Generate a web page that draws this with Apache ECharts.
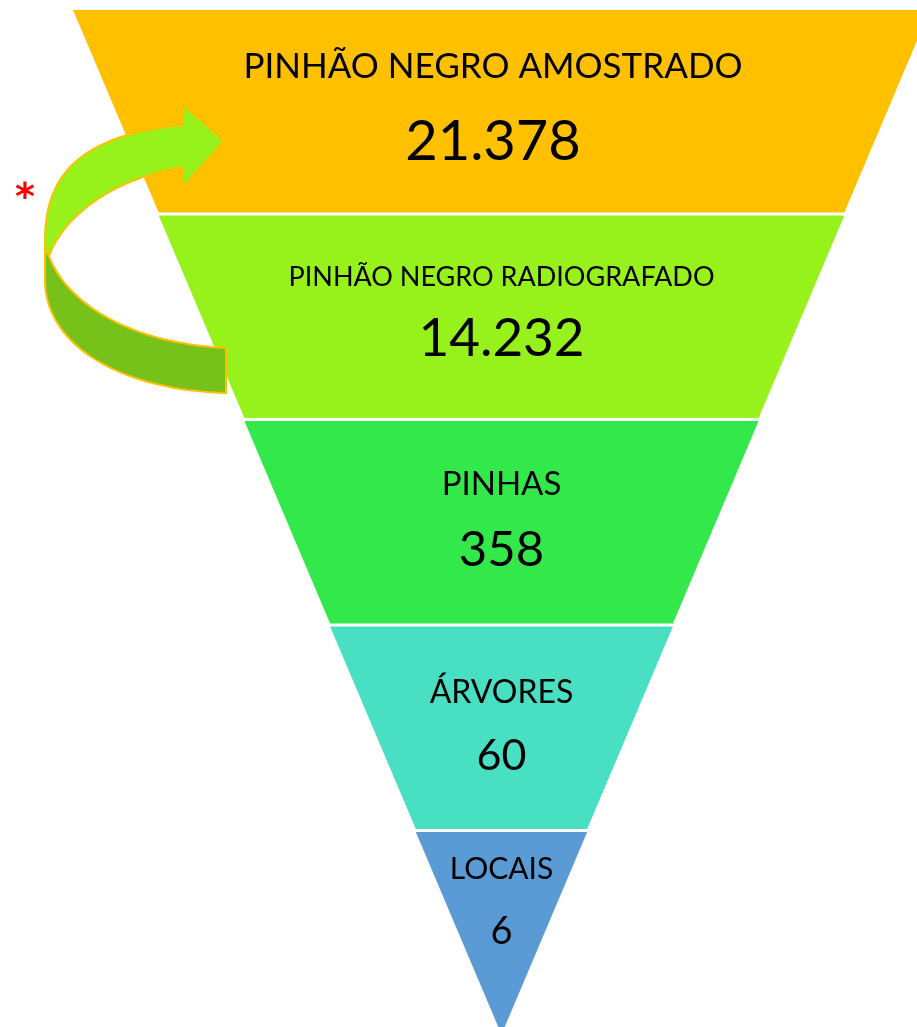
<!DOCTYPE html>
<html>
<head>
<meta charset="utf-8">
<script src="https://cdn.jsdelivr.net/npm/echarts@6/dist/echarts.min.js"></script>
<style>
html, body { margin: 0; padding: 0; background: #fff; }
#funnel { width: 917px; height: 1027px; }
</style>
</head>
<body>
<div id="funnel"></div>
<script>
// etapas do funil, de cima para baixo
var stageNames = ['PINHÃO NEGRO AMOSTRADO', 'PINHÃO NEGRO RADIOGRAFADO', 'PINHAS', 'ÁRVORES', 'LOCAIS'];
var stageCounts = [21378, 14232, 358, 60, 6];
// largura relativa de cada faixa (o desenho é um triângulo, não proporcional às contagens)
var stageWidth = [5, 4, 3, 2, 1];

var stageColors = ['#FFC000', '#97F21C', '#33E84A', '#48DFC2', '#5B9BD5'];

// fontes e ajuste do rótulo de cada faixa
var labelStyles = [
	{ name: 35, value: 56, nameLH: 50, valueLH: 100, padding: [11.5, 17, 0, 0] },
	{ name: 27, value: 53, nameLH: 40, valueLH: 83, padding: [4.5, 0, 0, 0] },
	{ name: 33, value: 49, nameLH: 44, valueLH: 89, padding: [12.5, 0, 0, 0] },
	{ name: 32, value: 43, nameLH: 44, valueLH: 84, padding: [13.5, 0, 0, 0] },
	{ name: 30, value: 38, nameLH: 40, valueLH: 85, padding: [0, 0, 43.5, 0] }
];

// separador de milhar com ponto
function fmt(n) {
	return String(n).replace(/\B(?=(\d{3})+(?!\d))/g, '.');
}

// pontos de uma curva de bezier cúbica (só para a seta decorativa)
function bez(p0, p1, p2, p3, n) {
	var out = [];
	for (var k = 0; k <= n; k++) {
		var t = k / n, u = 1 - t;
		out.push([
			u * u * u * p0[0] + 3 * u * u * t * p1[0] + 3 * u * t * t * p2[0] + t * t * t * p3[0],
			u * u * u * p0[1] + 3 * u * u * t * p1[1] + 3 * u * t * t * p2[1] + t * t * t * p3[1]
		]);
	}
	return out;
}

var arrowTop = []
	.concat(bez([45, 240], [45, 175], [80, 135], [183, 125], 40))
	.concat([[183, 105], [224, 141], [183, 187], [183, 167]])
	.concat(bez([183, 167], [120, 177], [65, 212], [49, 256], 40))
	.concat([[45, 250]]);

var arrowBottom = []
	.concat(bez([49, 256], [65, 300], [125, 343], [226, 348], 40))
	.concat([[226, 393]])
	.concat(bez([226, 393], [120, 390], [45, 345], [45, 280], 40))
	.concat([[45, 240]]);

var chart = echarts.init(document.getElementById('funnel'), null, { renderer: 'canvas' });

var seriesData = stageNames.map(function (name, i) {
	var st = labelStyles[i];
	return {
		name: name,
		value: stageWidth[i],
		itemStyle: { color: stageColors[i] },
		label: {
			padding: st.padding,
			rich: {
				n: { fontSize: st.name, lineHeight: st.nameLH, fontFamily: 'Lato', color: '#000' },
				v: { fontSize: st.value, lineHeight: st.valueLH, fontFamily: 'Lato', color: '#000' }
			}
		}
	};
});

var option = {
	backgroundColor: '#fff',
	animation: false,
	series: [
		{
			type: 'funnel',
			sort: 'none',
			left: 73,
			top: 10,
			width: 857,
			height: 1024.5,
			gap: 3,
			min: 0,
			max: 5,
			minSize: '0%',
			maxSize: '100%',
			itemStyle: { borderWidth: 0 },
			emphasis: { disabled: true },
			labelLine: { show: false },
			label: {
				show: true,
				position: 'inside',
				formatter: function (p) {
					return '{n|' + p.name + '}\n{v|' + fmt(stageCounts[p.dataIndex]) + '}';
				}
			},
			data: seriesData
		}
	],
	graphic: [
		{
			type: 'polygon',
			z: 100,
			shape: { points: arrowBottom },
			style: { fill: '#76C21A', stroke: '#FFC000', lineWidth: 2 }
		},
		{
			type: 'polygon',
			z: 101,
			shape: { points: arrowTop },
			style: { fill: '#97F21C', stroke: '#FFC000', lineWidth: 2 }
		},
		{
			type: 'text',
			z: 102,
			x: 25,
			y: 199,
			style: {
				text: '*',
				fontSize: 38,
				fontWeight: 'bold',
				fontFamily: 'DejaVu Sans',
				fill: '#FF0000',
				align: 'center',
				verticalAlign: 'middle'
			}
		}
	]
};

chart.setOption(option);
</script>
</body>
</html>
